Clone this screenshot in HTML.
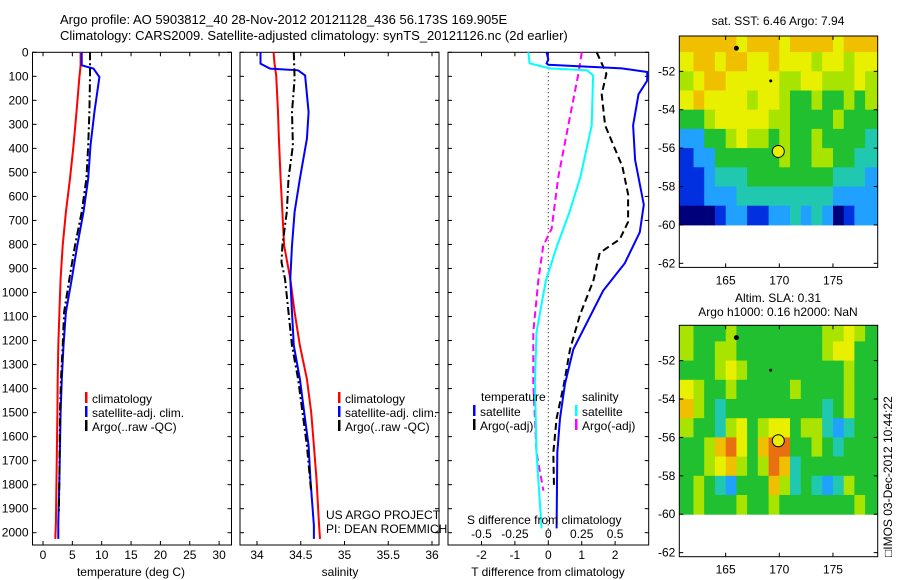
<!DOCTYPE html>
<html><head><meta charset="utf-8"><style>
body{margin:0;background:#fff}
svg{display:block;font-family:"Liberation Sans",sans-serif}
text{font-size:12px;fill:#000}
</style></head><body>
<svg id="fig" width="900" height="580" viewBox="0 0 900 580">
<text x="60" y="24" style="font-size:13px">Argo profile: AO 5903812_40 28-Nov-2012 20121128_436 56.173S 169.905E</text>
<text x="60" y="40" style="font-size:13px">Climatology: CARS2009. Satellite-adjusted climatology: synTS_20121126.nc (2d earlier)</text>
<g id="p1"></g>
<g id="p2"></g>
<g id="p3"></g>
<g id="m1"></g>
<g id="m2"></g>
<text x="548" y="576" text-anchor="middle">T difference from climatology</text>
<text x="131" y="576" text-anchor="middle">temperature (deg C)</text>
<text x="340" y="576" text-anchor="middle">salinity</text>
<text x="326" y="519">US ARGO PROJECT</text>
<text x="326" y="533">PI: DEAN ROEMMICH</text>
<text x="467" y="524">S difference from climatology</text>
<text x="778" y="25" text-anchor="middle">sat. SST: 6.46 Argo: 7.94</text>
<text x="778" y="302" text-anchor="middle">Altim. SLA: 0.31</text>
<text x="778" y="316" text-anchor="middle">Argo h1000: 0.16 h2000: NaN</text>
<text transform="translate(892,557) rotate(-90)">□IMOS 03-Dec-2012 10:44:22</text>
</svg>
<script>
// ---- profile data ----
const depthsP1 = [0,54,68,103,249,388,526,665,804,943,1082,1221,1360,1499,1776,1957,2026];
const tempClim = [6.4,6.4,6.35,6.2,5.7,5.2,4.6,3.9,3.35,3.0,2.8,2.6,2.5,2.45,2.3,2.2,2.1];
const tempSat  = [6.6,6.6,8.6,9.6,8.75,8.1,7.7,6.9,5.85,4.9,3.9,3.5,3.2,3.0,2.8,2.6,2.6];
const depthsArgoT = [0,110,249,388,526,665,804,943,1082,1221,1360,1499,1776,1915];
const tempArgo = [8.0,8.0,7.9,7.7,7.4,6.6,5.45,4.5,3.6,3.35,3.07,2.9,2.8,2.7];

const depthsP2 = [0,47,68,75,96,249,360,526,665,804,943,1082,1221,1360,1499,1638,1776,1971,2026];
const salClim = [34.19,34.2,34.21,34.21,34.22,34.24,34.25,34.27,34.29,34.31,34.38,34.43,34.49,34.57,34.62,34.65,34.68,34.71,34.72];
const salSat  = [34.04,34.04,34.15,34.47,34.55,34.59,34.57,34.49,34.43,34.40,34.38,34.40,34.42,34.49,34.54,34.59,34.61,34.65,34.65];
const depthsArgoS = [0,110,249,388,526,665,804,874,943,1082,1221,1360,1499,1638,1832];
const salArgo = [34.42,34.43,34.40,34.41,34.36,34.34,34.29,34.28,34.32,34.36,34.40,34.47,34.52,34.57,34.62];

const depthsDT = [0,30,46,52,67,82,118,175,304,448,634,749,878,993,1237,1380,1524,1667,1982];
const dTsat = [-0.05,0.0,-0.05,0.0,2.2,2.96,2.96,2.7,2.54,2.6,2.86,2.74,2.29,1.64,0.75,0.5,0.35,0.27,0.25];
const depthsDTa = [0,89,175,304,476,591,706,778,835,950,1093,1237,1380,1524,1667,1811];
const dTargo = [1.45,1.74,1.6,1.7,2.22,2.39,2.39,2.14,1.54,1.35,0.95,0.65,0.47,0.25,0.15,0.17];
const depthsDS = [0,46,67,75,96,304,519,663,806,950,1165,1380,1667,1982];
const dSsat = [-0.15,-0.14,0.01,0.29,0.335,0.325,0.24,0.16,0.065,-0.018,-0.088,-0.1,-0.088,-0.05];
const depthsDSa = [0,89,304,519,735,806,950,1165,1380,1667,1825];
const dSargo = [0.25,0.225,0.15,0.075,0.025,-0.038,-0.075,-0.112,-0.112,-0.088,-0.037];

// ---- map data (1 deg cells, lon 161..178 west edge, lat rows -50..-59 top edge) ----
const mapLons = [161,162,163,164,165,166,167,168,169,170,171,172,173,174,175,176,177,178];
const mapLats = [-50,-51,-52,-53,-54,-55,-56,-57,-58,-59];
const sstRows = [
[7,7,7,7,7,6,7,7,7,6,7,7,7,7,6,7,7,7],
[6,7,7,6,7,7,6,6,7,6,6,6,5,6,6,5,6,6],
[5,6,7,7,6,6,6,6,6,5,5,6,6,5,5,5,6,5],
[6,7,6,6,6,6,5,6,6,5,4,4,5,4,4,5,4,5],
[4,4,5,6,6,6,6,6,5,5,4,4,4,4,5,4,4,4],
[2,2,4,4,5,6,5,5,4,5,4,4,5,4,4,4,4,3],
[1,2,2,4,4,4,4,4,4,5,4,4,5,5,4,4,3,3],
[1,1,2,3,3,3,4,4,4,4,4,4,4,4,3,3,3,2],
[1,1,2,2,2,3,3,3,3,3,3,3,3,3,2,2,2,2],
[0,0,0,1,2,2,1,1,2,2,3,2,3,2,0,1,2,2]];
const slaRows = [
[5,4,4,4,5,4,4,4,4,4,4,4,4,5,5,6,5,4],
[5,4,4,5,5,4,4,4,4,4,4,4,4,5,6,6,4,4],
[4,4,4,5,6,5,4,4,4,4,4,4,4,4,4,5,4,4],
[6,5,4,4,5,4,4,4,4,4,5,4,4,4,4,5,4,4],
[7,5,4,3,4,4,4,4,4,4,4,4,4,3,4,5,4,4],
[5,4,4,3,5,6,4,5,6,6,4,5,5,3,2,3,4,4],
[4,4,5,7,8,6,4,7,8,8,4,4,5,4,3,4,4,4],
[4,4,5,6,7,5,4,5,8,7,3,4,4,4,4,4,4,4],
[4,5,4,3,2,4,4,4,7,5,3,4,3,2,3,5,4,4],
[4,5,4,4,4,5,4,4,5,4,4,4,4,4,4,4,5,4]];
const floatLon = 169.905, floatLat = -56.173;
const depthTicks = [0,100,200,300,400,500,600,700,800,900,1000,1100,1200,1300,1400,1500,1600,1700,1800,1900,2000];
const tTicks = [0,5,10,15,20,25,30];
const sTicks = [34,34.5,35,35.5,36];
const sTickLabels = ["34","34.5","35","35.5","36"];
const dTTicks = [-2,-1,0,1,2];
const dSTickLabels = ["-0.5","-0.25","0","0.25","0.5"];
const latTicks = [-52,-54,-56,-58,-60,-62];
const lonTicks = [165,170,175];

const NS = "http://www.w3.org/2000/svg";
function mk(parent, tag, attrs){const e=document.createElementNS(NS,tag);for(const k in attrs)e.setAttribute(k,attrs[k]);parent.appendChild(e);return e;}
const yD = d => 52.3 + d*0.2402;
const TOP=52.3, BOT=545;

function panel(g, x0, x1, xfun, ticks, labels, showY, name){
  const r = mk(g,'rect',{x:x0,y:TOP,width:x1-x0,height:BOT-TOP,fill:'none',stroke:'#000','stroke-width':1});
  
  
  depthTicks.forEach(d=>{
    const y=yD(d);
    mk(g,'line',{x1:x0,x2:x0+4,y1:y,y2:y,stroke:'#000'});
    mk(g,'line',{x1:x1-4,x2:x1,y1:y,y2:y,stroke:'#000'});
    if(showY){const t=mk(g,'text',{x:x0-4,y:y+4,'text-anchor':'end'});t.textContent=d;
      
      }
  });
  ticks.forEach((v,i)=>{
    const x=xfun(v);
    mk(g,'line',{x1:x,x2:x,y1:BOT,y2:BOT-4,stroke:'#000'});
    mk(g,'line',{x1:x,x2:x,y1:TOP,y2:TOP+4,stroke:'#000'});
    const t=mk(g,'text',{x:x,y:559,'text-anchor':'middle'});t.textContent=labels[i];
    
    
  });
}
function line(g, xs, ds, xfun, color, dash, name){
  const pts = xs.map((v,i)=>xfun(v).toFixed(1)+','+yD(ds[i]).toFixed(1)).join(' ');
  const p = mk(g,'polyline',{points:pts,fill:'none',stroke:color,'stroke-width':2});
  if(dash) p.setAttribute('stroke-dasharray',dash);
  
  
}
function legend(g, x, y, color, label, name){
  mk(g,'rect',{x:x,y:y-11,width:2.5,height:11,fill:color});
  const t=mk(g,'text',{x:x+7,y:y});t.textContent=label;
  
  
}

// panel 1
const p1=document.getElementById('p1');
const xT = v => 43 + v*5.87;
panel(p1,32.5,231.5,xT,tTicks,tTicks.map(String),true,'p1');
line(p1,tempClim,depthsP1,xT,'#ff0000',null,'temp-climatology-line');
line(p1,tempSat,depthsP1,xT,'#0000ff',null,'temp-satellite-line');
line(p1,tempArgo,depthsArgoT,xT,'#000','8,3,2,3','temp-argo-line');
legend(p1,85,403,'#f00','climatology','legend-climatology');
legend(p1,85,417,'#00f','satellite-adj. clim.','legend-satellite');
legend(p1,85,431,'#000','Argo(..raw -QC)','legend-argo');

// panel 2
const p2=document.getElementById('p2');
const xS = v => 257 + (v-34)*87.5;
panel(p2,240,439,xS,sTicks,sTickLabels,false,'p2');
line(p2,salClim,depthsP2,xS,'#ff0000',null,'sal-climatology-line');
line(p2,salSat,depthsP2,xS,'#0000ff',null,'sal-satellite-line');
line(p2,salArgo,depthsArgoS,xS,'#000','8,3,2,3','sal-argo-line');
legend(p2,338,403,'#f00','climatology','legend-climatology-2');
legend(p2,338,417,'#00f','satellite-adj. clim.','legend-satellite-2');
legend(p2,338,431,'#000','Argo(..raw -QC)','legend-argo-2');

// panel 3
const p3=document.getElementById('p3');
const xDT = v => 548.3 + v*33.4;
const xDS = v => xDT(v*4);
panel(p3,448,648.7,xDT,dTTicks,dTTicks.map(String),false,'p3');
mk(p3,'line',{x1:xDT(0),x2:xDT(0),y1:TOP,y2:BOT,stroke:'#000','stroke-dasharray':'1,3'});
line(p3,dSargo,depthsDSa,xDS,'#ff00ff','7,4','dsal-argo-line');
line(p3,dSsat,depthsDS,xDS,'#00ffff',null,'dsal-satellite-line');
line(p3,dTargo,depthsDTa,xDT,'#000','7,4','dtemp-argo-line');
line(p3,dTsat,depthsDT,xDT,'#0000ff',null,'dtemp-satellite-line');
dTTicks.forEach((v,i)=>{const t=mk(p3,'text',{x:xDT(v),y:538,'text-anchor':'middle'});t.textContent=dSTickLabels[i];
  
  });
{const t=mk(p3,'text',{x:481,y:401});t.textContent='temperature';
 
 
 const u=mk(p3,'text',{x:582,y:401});u.textContent='salinity';
 
 }
legend(p3,473,416,'#00f','satellite','legend-dt-satellite');
legend(p3,473,430,'#000','Argo(-adj)','legend-dt-argo');
legend(p3,575,416,'#0ff','satellite','legend-ds-satellite');
legend(p3,575,430,'#f0f','Argo(-adj)','legend-ds-argo');

// maps
const cmap = ['#00007a','#0030e0','#20a0ff','#20c8b0','#20c030','#a8e400','#e8f000','#f0c000','#e87010'];
function map(g, top, rows, name){
  const L=679.3,R=877.7,lon0=160.68,lon1=179.17,lat0=-50.16,ppd=19.2;
  const xL = v => L + (v-lon0)/(lon1-lon0)*(R-L);
  const yL = v => top + (lat0 - v)*ppd;
  const bottom = top + 231.4;
  const clip = 'clip-'+name;
  const cp = mk(g,'clipPath',{id:clip});
  mk(cp,'rect',{x:L,y:top,width:R-L,height:bottom-top});
  const cg = mk(g,'g',{'clip-path':'url(#'+clip+')'});
  rows.forEach((row,ri)=>row.forEach((v,ci)=>{
    const x=xL(mapLons[ci]), y=yL(mapLats[ri]);
    const c=mk(cg,'rect',{x:x.toFixed(1),y:y.toFixed(1),width:(xL(mapLons[ci]+1)-x+0.5).toFixed(1),height:(ppd+0.5).toFixed(1),fill:cmap[v]});
    
    
  }));
  // left/right cells fill for partial columns
  rows.forEach((row,ri)=>{
    const y=yL(mapLats[ri]);
    mk(cg,'rect',{x:L,y:y,width:xL(161)-L+0.5,height:ppd+0.5,fill:cmap[row[0]]});
    mk(cg,'rect',{x:xL(179)-0.5,y:y,width:R-xL(179)+1,height:ppd+0.5,fill:cmap[row[17]]});
  });
  mk(g,'circle',{cx:xL(166),cy:yL(-50.8),r:2.5,fill:'#000'});
  mk(g,'circle',{cx:xL(169.2),cy:yL(-52.5),r:1.5,fill:'#000'});
  const m=mk(g,'circle',{cx:xL(floatLon),cy:yL(floatLat),r:6,fill:'#e8f000',stroke:'#000','stroke-width':1});
  
  
  mk(g,'rect',{x:L,y:top,width:R-L,height:bottom-top,fill:'none',stroke:'#000'});
  latTicks.forEach(v=>{const y=yL(v);
    mk(g,'line',{x1:L,x2:L+4,y1:y,y2:y,stroke:'#000'});
    mk(g,'line',{x1:R-4,x2:R,y1:y,y2:y,stroke:'#000'});
    const t=mk(g,'text',{x:L-4,y:y+4,'text-anchor':'end'});t.textContent=v;
    
    });
  lonTicks.forEach(v=>{const x=xL(v);
    mk(g,'line',{x1:x,x2:x,y1:bottom,y2:bottom-4,stroke:'#000'});
    mk(g,'line',{x1:x,x2:x,y1:top,y2:top+4,stroke:'#000'});
    const t=mk(g,'text',{x:x,y:bottom+17,'text-anchor':'middle'});t.textContent=v;
    
    });
}
map(document.getElementById('m1'),36,sstRows,'sst-map');
map(document.getElementById('m2'),325.3,slaRows,'sla-map');
</script>
</body></html>
